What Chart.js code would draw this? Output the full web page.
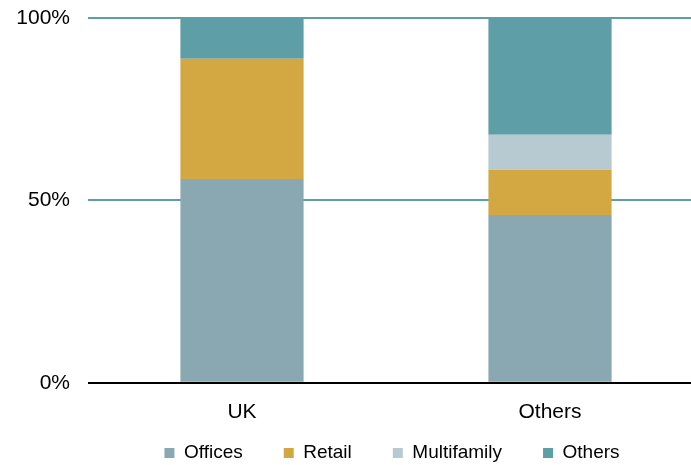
<!DOCTYPE html>
<html lang="en">

<head>
    <meta charset="UTF-8">
    <title>Sector split</title>
</head>

<body>
    <style>
        html, body {
            margin: 0;
            padding: 0;
            background: #ffffff;
            overflow: hidden;
        }

        .chart-wrapper {
            width: 704px;
            height: 465px;
        }
    </style>

    <div class="chart-wrapper">
        <canvas id="myChart"></canvas>
    </div>

    <script src="https://cdn.jsdelivr.net/npm/chart.js"></script>

    <script>
        const categories = ['UK', 'Others'];
        const offices = [55.9, 46.0];
        const retail = [32.9, 12.4];
        const multifamily = [0, 9.6];
        const others = [11.2, 32.0];
        const yTicks = [0, 50, 100];

        const font = "'Liberation Sans', Arial, sans-serif";

        // legend sits closer to the axis labels than chart.js would put it
        const legendShift = {
            id: 'legendShift',
            afterLayout(chart) {
                const lg = chart.legend;
                lg.top -= 39.5;
                lg.bottom -= 39.5;
                lg.left -= 4;
                lg.right -= 4;
            }
        };

        const ctx = document.getElementById('myChart').getContext('2d');

        new Chart(ctx, {
            type: 'bar',
            data: {
                labels: categories,
                datasets: [
                    { label: 'Offices', data: offices, backgroundColor: '#8aa8b2' },
                    { label: 'Retail', data: retail, backgroundColor: '#d3a843' },
                    { label: 'Multifamily', data: multifamily, backgroundColor: '#b7cad2' },
                    { label: 'Others', data: others, backgroundColor: '#5d9ea7' }
                ]
            },
            plugins: [legendShift],
            options: {
                responsive: true,
                maintainAspectRatio: false,
                animation: false,
                datasets: {
                    bar: {
                        barPercentage: 0.4,
                        categoryPercentage: 1,
                        borderWidth: 0
                    }
                },
                plugins: {
                    legend: {
                        position: 'bottom',
                        fullSize: false,
                        labels: {
                            boxWidth: 10,
                            boxHeight: 10,
                            padding: 41,
                            color: '#000000',
                            font: { family: font, size: 19 }
                        }
                    },
                    tooltip: { enabled: false }
                },
                scales: {
                    x: {
                        stacked: true,
                        grid: { display: false, tickLength: 0 },
                        border: { display: false },
                        ticks: {
                            color: '#000000',
                            padding: 17,
                            font: { family: font, size: 21 }
                        }
                    },
                    y: {
                        stacked: true,
                        min: 0,
                        max: 100,
                        afterBuildTicks: axis => {
                            axis.ticks = yTicks.map(v => ({ value: v }));
                        },
                        afterFit: axis => {
                            axis.width = 72;
                            axis.paddingTop = 18;
                        },
                        grid: {
                            drawTicks: false,
                            lineWidth: 2,
                            color: c => c.tick.value === 0 ? '#000000' : '#5d9ea7'
                        },
                        border: { display: false },
                        ticks: {
                            color: '#000000',
                            padding: 18,
                            font: { family: font, size: 21 },
                            callback: v => v + '%'
                        }
                    }
                },
                layout: {
                    padding: { left: 16, right: 0, top: 0, bottom: -47 }
                }
            }
        });
    </script>
</body>

</html>
